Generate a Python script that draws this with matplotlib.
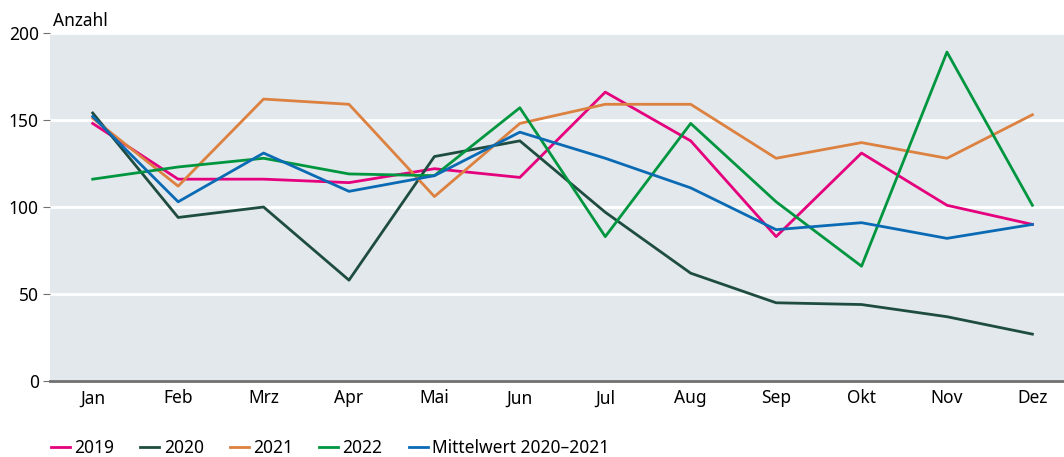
import matplotlib.pyplot as plt
import numpy as np

plt.rcParams['font.family'] = ['Source Sans Pro', 'Noto Sans', 'DejaVu Sans']

monate = ["Jan", "Feb", "Mrz", "Apr", "Mai", "Jun", "Jul", "Aug", "Sep", "Okt", "Nov", "Dez"]
werte_2019 = [148, 116, 116, 114, 122, 117, 166, 138, 83, 131, 101, 90]
werte_2020 = [154, 94, 100, 58, 129, 138, 97, 62, 45, 44, 37, 27]
werte_2021 = [151, 112, 162, 159, 106, 148, 159, 159, 128, 137, 128, 153]
werte_2022 = [116, 123, 128, 119, 118, 157, 83, 148, 103, 66, 189, 101]
mittelwert = [152, 103, 131, 109, 118, 143, 128, 111, 87, 91, 82, 90]

farben = {
    "2019": "#e5007d",
    "2020": "#1e4d40",
    "2021": "#dc8140",
    "2022": "#00963f",
    "Mittelwert 2020\u20132021": "#0a6ab4",
}
serien = [werte_2019, werte_2020, werte_2021, werte_2022, mittelwert]

fig = plt.figure(figsize=(10.64, 4.57), dpi=100)
ax = fig.add_axes([0.047, 0.166, 0.953, 0.762])
ax.set_facecolor("#e3e8ec")

x = np.arange(len(monate))
for (name, farbe), werte in zip(farben.items(), serien):
    ax.plot(x, werte, color=farbe, lw=2, label=name)

ax.set_ylim(0, 200)
ax.set_yticks([0, 50, 100, 150, 200])
ax.set_xlim(-0.5, 11.37)
ax.set_xticks(x)
ax.set_xticklabels(monate)
ax.grid(axis="y", color="white", lw=2)
ax.set_axisbelow(True)
for s in ["top", "right", "left"]:
    ax.spines[s].set_visible(False)
ax.spines["bottom"].set_color("#707070")
ax.spines["bottom"].set_linewidth(2)
ax.tick_params(axis="x", length=0, labelsize=12.5, pad=6)
ax.tick_params(axis="y", length=5, color="#707070", labelsize=12.5, pad=3)

fig.text(0.05, 0.935, "Anzahl", fontsize=12.5, va="bottom")

fig.legend(loc="lower left", bbox_to_anchor=(0.033, -0.035), ncol=5, frameon=False,
           fontsize=12.5, handlelength=1.1, handletextpad=0.25, columnspacing=1.5)

fig.savefig("out.png", dpi=100)
